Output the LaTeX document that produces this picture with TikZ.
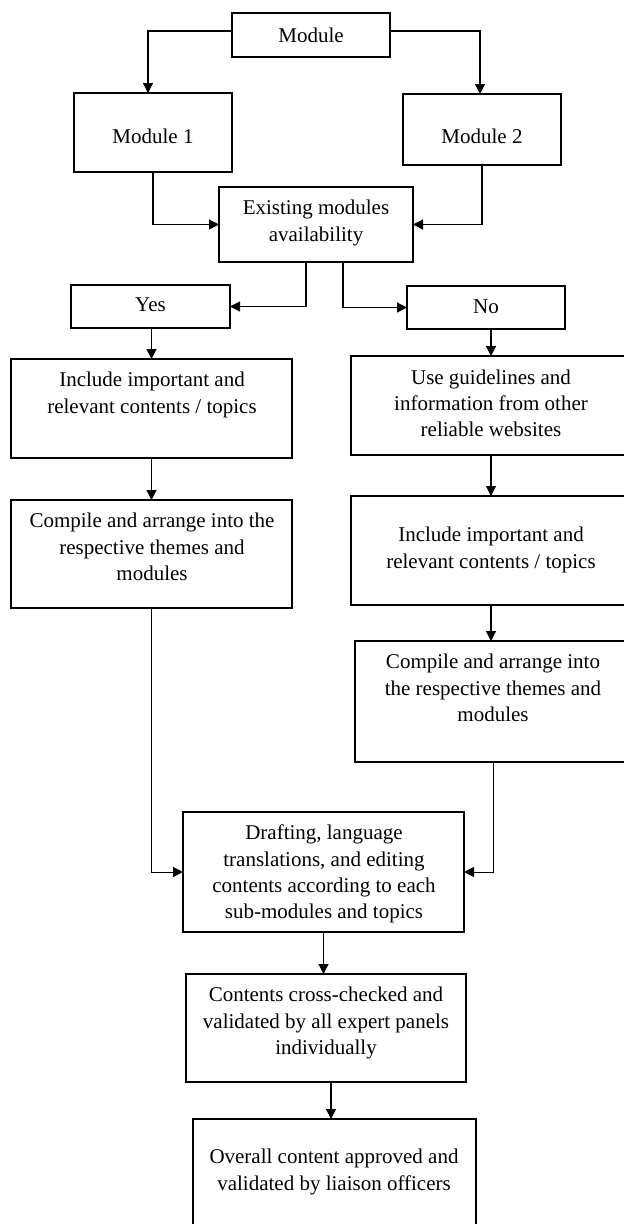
\documentclass[tikz,border=0pt]{standalone}
\usepackage{fontspec}
\setmainfont{Liberation Serif}
\usetikzlibrary{arrows.meta,calc}
\tikzset{
  boxnode/.style={draw, line width=1.2pt, rectangle, inner sep=0pt, outer sep=0pt, anchor=north west},
  txt/.style={font=\fontsize{21}{26.3}\selectfont, align=center, inner sep=0pt},
  arr/.style={line width=1.2pt, -{Triangle[length=10pt,width=10pt]}},
  link/.style={line width=1pt, -{Triangle[length=10pt,width=10pt]}},
}
\begin{document}
\begin{tikzpicture}[x=1pt,y=-1pt]
\useasboundingbox (0,0) rectangle (624,1224);
\clip (0,0) rectangle (624,1224);

% boxes
\node[boxnode, minimum width=158pt, minimum height=44pt]  (mod)   at (232,13)   {};
\node[boxnode, minimum width=158pt, minimum height=79pt]  (m1)    at (74,93)    {};
\node[boxnode, minimum width=158pt, minimum height=71pt]  (m2)    at (403,94)   {};
\node[boxnode, minimum width=194pt, minimum height=75pt]  (ex)    at (219,187)  {};
\node[boxnode, minimum width=159pt, minimum height=43pt]  (yes)   at (71,285)   {};
\node[boxnode, minimum width=158pt, minimum height=43pt]  (no)    at (407,286)  {};
\node[boxnode, minimum width=281pt, minimum height=99pt]  (incl)  at (11,359)   {};
\node[boxnode, minimum width=281pt, minimum height=108pt] (compl) at (11,500)   {};
\node[boxnode, minimum width=280pt, minimum height=99pt]  (use)   at (351,356)  {};
\node[boxnode, minimum width=280pt, minimum height=109pt] (incr)  at (351,496)  {};
\node[boxnode, minimum width=276pt, minimum height=121pt] (compr) at (355,641)  {};
\node[boxnode, minimum width=281pt, minimum height=120pt] (draft) at (183,812)  {};
\node[boxnode, minimum width=280pt, minimum height=108pt] (cont)  at (186,974)  {};
\node[boxnode, minimum width=283pt, minimum height=130pt] (ov)    at (193,1119) {};

% texts
\node[txt] (tmod)   at (311,35)    {Module};
\node[txt] (tm1)    at (153,136)   {Module 1};
\node[txt] (tm2)    at (482,136)   {Module 2};
\node[txt] (tex)    at (316,223)   {Existing modules\\availability};
\node[txt] (tyes)   at (150.5,305) {Yes};
\node[txt] (tno)    at (486,307)   {No};
\node[txt] (tincl)  at (152,395)   {Include important and\\relevant contents / topics};
\node[txt] (tcompl) at (152,547)   {Compile and arrange into the\\respective themes and\\modules};
\node[txt] (tuse)   at (491,403.5) {Use guidelines and\\information from other\\reliable websites};
\node[txt] (tincr)  at (491,550)   {Include important and\\relevant contents / topics};
\node[txt] (tcompr) at (493,688)   {Compile and arrange into\\the respective themes and\\modules};
\node[txt] (tdraft) at (324,874)   {Drafting, language\\translations, and editing\\contents according to each\\sub-modules and topics};
\node[txt] (tcont)  at (326,1023)  {Contents cross-checked and\\validated by all expert panels\\individually};
\node[txt] (tov)    at (334,1172)  {Overall content approved and\\validated by liaison officers};

% connectors
\draw[arr] ([yshift=4pt]mod.west) -| ([xshift=-5pt]m1.north);
\draw[arr] ([yshift=4pt]mod.east) -| ([xshift=-2pt]m2.north);
\draw[arr] (m1.south) |- (ex.west);
\draw[arr] (m2.south) |- (ex.east);
\draw[arr] ([xshift=-10pt]ex.south) |- (yes.east);
\draw[arr] ([xshift=27pt]ex.south) |- (no.west);
\draw[arr] (yes.south -| incl.north) -- (incl.north);
\draw[arr] (incl.south) -- (compl.north);
\draw[link] (compl.south) |- (draft.west);
\draw[arr] (no.south -| use.north) -- (use.north);
\draw[arr] (use.south) -- (incr.north);
\draw[arr] (incr.south) -- (incr.south |- compr.north);
\draw[link] (compr.south) |- (draft.east);
\draw[arr] (draft.south) -- (draft.south |- cont.north);
\coordinate (c1) at ([xshift=5pt]cont.south);
\draw[arr] (c1) -- (c1 |- ov.north);
\end{tikzpicture}
\end{document}
